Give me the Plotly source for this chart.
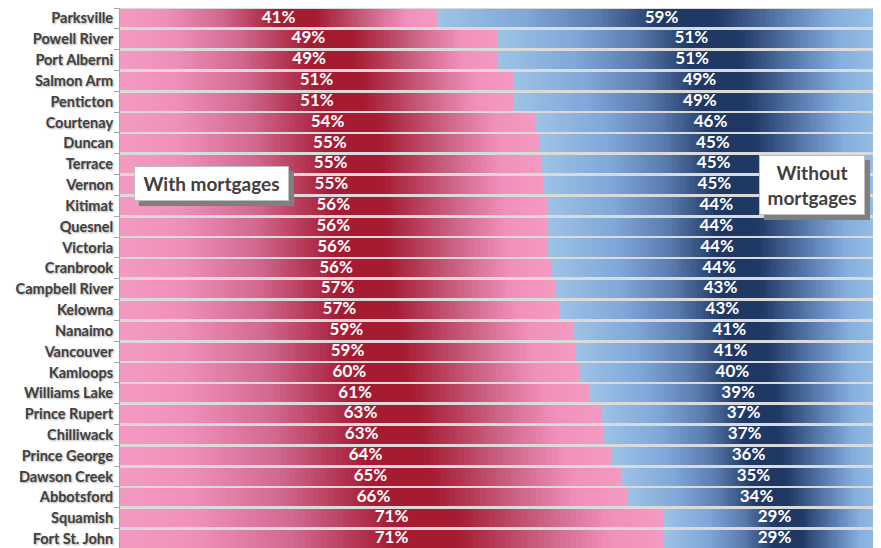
import plotly.graph_objects as go
from plotly.colors import hex_to_rgb

# Share of homeowners with / without a mortgage, by city (percent)
cities = [
    "Parksville", "Powell River", "Port Alberni", "Salmon Arm", "Penticton",
    "Courtenay", "Duncan", "Terrace", "Vernon", "Kitimat", "Quesnel", "Victoria",
    "Cranbrook", "Campbell River", "Kelowna", "Nanaimo", "Vancouver", "Kamloops",
    "Williams Lake", "Prince Rupert", "Chilliwack", "Prince George", "Dawson Creek",
    "Abbotsford", "Squamish", "Fort St. John",
]
with_mortgage = [41.4, 49.2, 49.4, 51.3, 51.4, 54.2, 54.8, 55.0, 55.2, 55.7, 55.7, 55.9,
                 56.4, 56.8, 57.3, 59.1, 59.4, 59.9, 61.4, 62.8, 63.1, 64.1, 65.4,
                 66.2, 70.9, 70.9]
without_mortgage = [58.6, 50.8, 50.6, 48.7, 48.6, 45.8, 45.2, 45.0, 44.8, 44.3, 44.3, 44.1,
                    43.6, 43.2, 42.7, 40.9, 40.6, 40.1, 38.6, 37.2, 36.9, 35.9, 34.6,
                    33.8, 29.1, 29.1]

# gradient stops (position along a segment, colour)
pink_stops = [(0, "#F49AC2"), (0.14, "#EF90BB"), (0.32, "#D16890"), (0.5, "#A51B32"),
              (0.62, "#A51B32"), (0.78, "#CB6284"), (0.9, "#F08FBB"), (1, "#F49AC2")]
blue_stops = [(0, "#9DC3E6"), (0.2, "#7FA7D8"), (0.36, "#5A7BAE"), (0.5, "#1F3864"),
              (0.62, "#1F3864"), (0.77, "#5A7DB0"), (0.88, "#84AEDD"), (1, "#9DC3E6")]

N = 100  # slices per segment used to fake the gradient fill


def grad(stops, t):
    for (t0, c0), (t1, c1) in zip(stops, stops[1:]):
        if t0 <= t <= t1:
            f = (t - t0) / (t1 - t0)
            a, b = hex_to_rgb(c0), hex_to_rgb(c1)
            return "rgb(%d,%d,%d)" % tuple(round(x + (y - x) * f) for x, y in zip(a, b))
    return stops[-1][1]


fig = go.Figure()

# ----------------
# gradient bars, one trace per slice
for values, stops in [(with_mortgage, pink_stops), (without_mortgage, blue_stops)]:
    for k in range(N):
        fig.add_trace(go.Bar(
            y=cities, x=[v / N for v in values], orientation="h",
            marker=dict(color=grad(stops, (k + 0.5) / N), line_width=0),
            showlegend=False, hoverinfo="skip",
        ))

# ----------------
# percent labels centred on each segment
label_font = dict(family="Lato", size=17, color="white", weight="bold")
fig.add_trace(go.Scatter(
    y=cities, x=[v / 2 for v in with_mortgage], mode="text",
    text=[f"{round(v)}%" for v in with_mortgage], textfont=label_font,
    showlegend=False, hoverinfo="skip", cliponaxis=False,
))
fig.add_trace(go.Scatter(
    y=cities, x=[w + v / 2 for w, v in zip(with_mortgage, without_mortgage)], mode="text",
    text=[f"{round(v)}%" for v in without_mortgage], textfont=label_font,
    showlegend=False, hoverinfo="skip", cliponaxis=False,
))

# callout boxes with a drop shadow (shadow = same box shifted, drawn first)
boxes = [("With mortgages", 12.0, 7.95, 143), ("Without<br>mortgages", 90.4, 8.02, 94)]
for text, bx, by, bw in boxes:
    for shadow in (True, False):
        fig.add_annotation(
            x=bx, y=by, text=text, showarrow=False, width=bw,
            xshift=5 if shadow else 0, yshift=-5 if shadow else 0,
            font=dict(family="Lato", size=19, weight="bold",
                      color="#7F7F7F" if shadow else "#404040"),
            bgcolor="#7F7F7F" if shadow else "white",
            bordercolor="#7F7F7F" if shadow else "#BFBFBF",
            borderwidth=1, borderpad=5,
        )

# the page body adds 8px around the figure, so the figure itself is 8px smaller
fig.update_layout(
    width=873, height=540,
    barmode="stack", bargap=0.13,
    margin=dict(l=112, r=0, t=0, b=0),
    paper_bgcolor="white", plot_bgcolor="#DADADA",
)
fig.update_xaxes(visible=False, range=[0, 99.35], fixedrange=True, automargin=False)
fig.update_yaxes(
    categoryorder="array", categoryarray=cities, range=[25.43, -0.5],
    automargin=False,
    showline=True, linecolor="#A6A6A6", linewidth=1,
    ticks="outside", tickson="boundaries", ticklen=5, tickcolor="#A6A6A6",
    showgrid=False, ticklabelstandoff=3,
    tickfont=dict(family="Lato", size=14.5, color="#404040", weight="bold",
                  shadow="1px 1px 2px rgba(0,0,0,0.35)"),
)

fig.write_html("out.html")
